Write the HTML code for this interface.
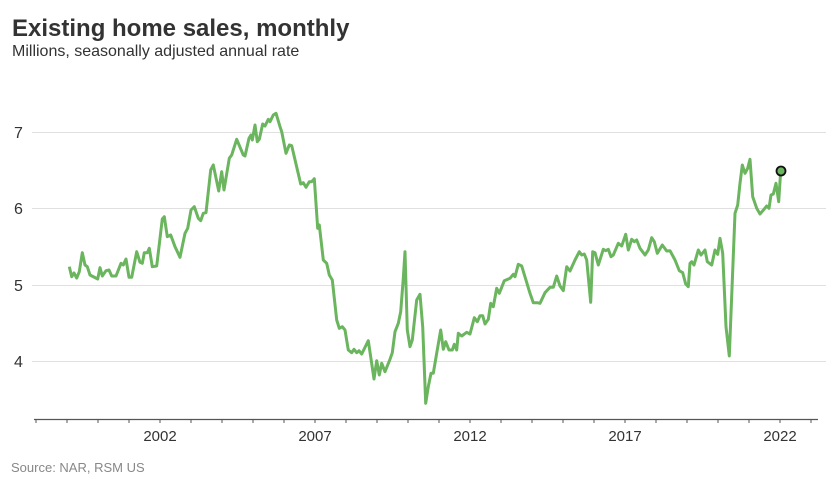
<!DOCTYPE html>
<html><head><meta charset="utf-8"><style>
body{margin:0;background:#fff;width:826px;height:489px;overflow:hidden;font-family:"Liberation Sans",Arial,sans-serif}
</style></head><body>
<svg width="826" height="489" viewBox="0 0 826 489" xmlns="http://www.w3.org/2000/svg" font-family="Liberation Sans, Arial, sans-serif">
<text x="12" y="36" font-size="24" font-weight="bold" fill="#333">Existing home sales, monthly</text>
<text x="12" y="56" font-size="16" fill="#333">Millions, seasonally adjusted annual rate</text>
<g stroke="#e0e0e0" stroke-width="1">
<line x1="32" y1="132.5" x2="826" y2="132.5"/>
<line x1="32" y1="208.5" x2="826" y2="208.5"/>
<line x1="32" y1="285.5" x2="826" y2="285.5"/>
<line x1="32" y1="361.5" x2="826" y2="361.5"/>
</g>
<g font-size="16" fill="#333">
<text x="14" y="138">7</text><text x="14" y="214">6</text><text x="14" y="291">5</text><text x="14" y="367">4</text>
</g>
<line x1="34" y1="419.5" x2="818" y2="419.5" stroke="#555" stroke-width="1.3"/>
<g stroke="#555" stroke-width="1">
<line x1="36" y1="419" x2="36" y2="423"/><line x1="67" y1="419" x2="67" y2="423"/><line x1="98" y1="419" x2="98" y2="423"/><line x1="129" y1="419" x2="129" y2="423"/><line x1="160" y1="419" x2="160" y2="423"/><line x1="191" y1="419" x2="191" y2="423"/><line x1="222" y1="419" x2="222" y2="423"/><line x1="253" y1="419" x2="253" y2="423"/><line x1="284" y1="419" x2="284" y2="423"/><line x1="315" y1="419" x2="315" y2="423"/><line x1="346" y1="419" x2="346" y2="423"/><line x1="377" y1="419" x2="377" y2="423"/><line x1="408" y1="419" x2="408" y2="423"/><line x1="439" y1="419" x2="439" y2="423"/><line x1="470" y1="419" x2="470" y2="423"/><line x1="501" y1="419" x2="501" y2="423"/><line x1="532" y1="419" x2="532" y2="423"/><line x1="563" y1="419" x2="563" y2="423"/><line x1="594" y1="419" x2="594" y2="423"/><line x1="625" y1="419" x2="625" y2="423"/><line x1="656" y1="419" x2="656" y2="423"/><line x1="687" y1="419" x2="687" y2="423"/><line x1="718" y1="419" x2="718" y2="423"/><line x1="749" y1="419" x2="749" y2="423"/><line x1="780" y1="419" x2="780" y2="423"/><line x1="811" y1="419" x2="811" y2="423"/>
</g>
<g font-size="15" fill="#333" text-anchor="middle">
<text x="160" y="441">2002</text><text x="315" y="441">2007</text><text x="470" y="441">2012</text><text x="625" y="441">2017</text><text x="780" y="441">2022</text>
</g>
<text x="11" y="472" font-size="13" fill="#888">Source: NAR, RSM US</text>
<polyline fill="none" stroke="#6ab55e" stroke-width="3" stroke-linejoin="round" points="69.3,266.7 71.7,276.7 74,273 76.7,278 79.3,271.7 82.3,252.7 85,265 87.3,266.7 90,275 97.7,279 100,267.7 102.3,276 106,270.7 109,270 111.7,276 116,276 121,263.3 123.3,265 126,259 129,277.3 131.7,277.3 136.7,251.7 140,262.3 142.3,263.3 144.3,252.7 147.3,252.7 149.3,248.3 152.3,266.7 156.7,266 162.3,219 164.3,216.7 167.3,236.7 170.7,235 175,246.7 180,257.3 185,233.3 187.7,228.3 191,210 194.3,206.7 198.3,218.3 200.7,220.7 203.3,213.3 206,212.7 210.7,170 213.3,165 218.7,191 221.7,171.7 224,190 229.3,158.3 231.7,155 236.7,139.3 243.3,155 245,156 249,138.3 251,135 252.3,140 255,125 257.3,141.7 259.3,139.3 262.7,124 265,126 268.3,119.3 270,121.7 273.3,115 276,113.3 280,126.7 281.7,131.7 286,153.3 289.3,145 291.7,145.7 300.7,184 303.3,182.7 306,187.3 309.3,181.7 311.7,181.7 314.3,178.7 317.7,228.3 319.3,225 323.3,260 326.7,263.3 329.3,275 332.3,280 336.7,320 339.3,328.3 342.3,326.7 345,330 348.3,350 351.7,352.7 354,349.3 356.7,352.7 359,350.7 361.7,354 368.3,340.7 374,379 376.7,360.7 379.3,375 381.7,363.3 385,371.7 390,359.3 392.3,352.7 395,331.7 398.3,323.3 400.7,311.7 403.3,278.3 405,251.7 407.3,330 410,346.7 412.3,340 416.7,300 420,294.3 422.7,326.7 425.7,403.3 428.3,386.7 431,373.3 433.3,373.3 436.7,353.3 440.7,330 443.3,349.3 445.7,341.7 449,350 452.3,350 454.3,344.3 456.7,350 458.3,333.3 461.7,336 466.7,332.3 470,334 474.3,317.7 477.3,321.7 480,315.7 482.7,315.7 485,324 488.3,319.3 490.7,303.3 493.3,306.7 496.7,288.3 499.3,293.3 504.3,280.7 510,278.3 513.3,274.3 515,276.7 518.3,264.3 521.7,266 530,293.3 533.3,302.7 537.3,302.7 540,303.3 545,292.7 550,287.3 553.3,287.3 556.7,276 560,286 563.3,290.7 566.7,266.7 570,271 575,260 579.3,251.7 581.7,255 584.3,254 586.7,260 590.7,302.3 592.7,251.7 595,252.7 598.3,265 603.3,249.3 605.7,250.7 608.3,249.3 611,256.7 613.3,255 618.3,243.3 621.7,246 625.7,234.3 628.3,250 631.7,239.3 634.3,241.7 636.7,240 640,248.3 645,255 648.3,250 651.7,237.7 654.3,241.7 657.3,253.3 662.3,245 666.7,251 670,250.7 675,260 679.3,270.7 682.7,272.7 685.7,284 688.3,286.7 690,263.3 691.7,261.7 694,265 698.3,250 701,255 705,250 707.3,261.7 711.7,265 715,250 717.7,254.3 720,238.3 722.7,253.3 726,326.7 729.3,356 735,213.3 737.7,205 740,183.3 742.3,165 745,173.3 747.7,168.3 750,159.3 752.7,196.7 756.7,208.3 760,214 764,209.3 766.7,206 769,208.3 771,195 773.3,194 776,183.3 778.7,201.7 780.7,170.7"/>
<circle cx="781" cy="171" r="4.5" fill="#6ab55e" stroke="#111" stroke-width="1.8"/>
</svg>
</body></html>
